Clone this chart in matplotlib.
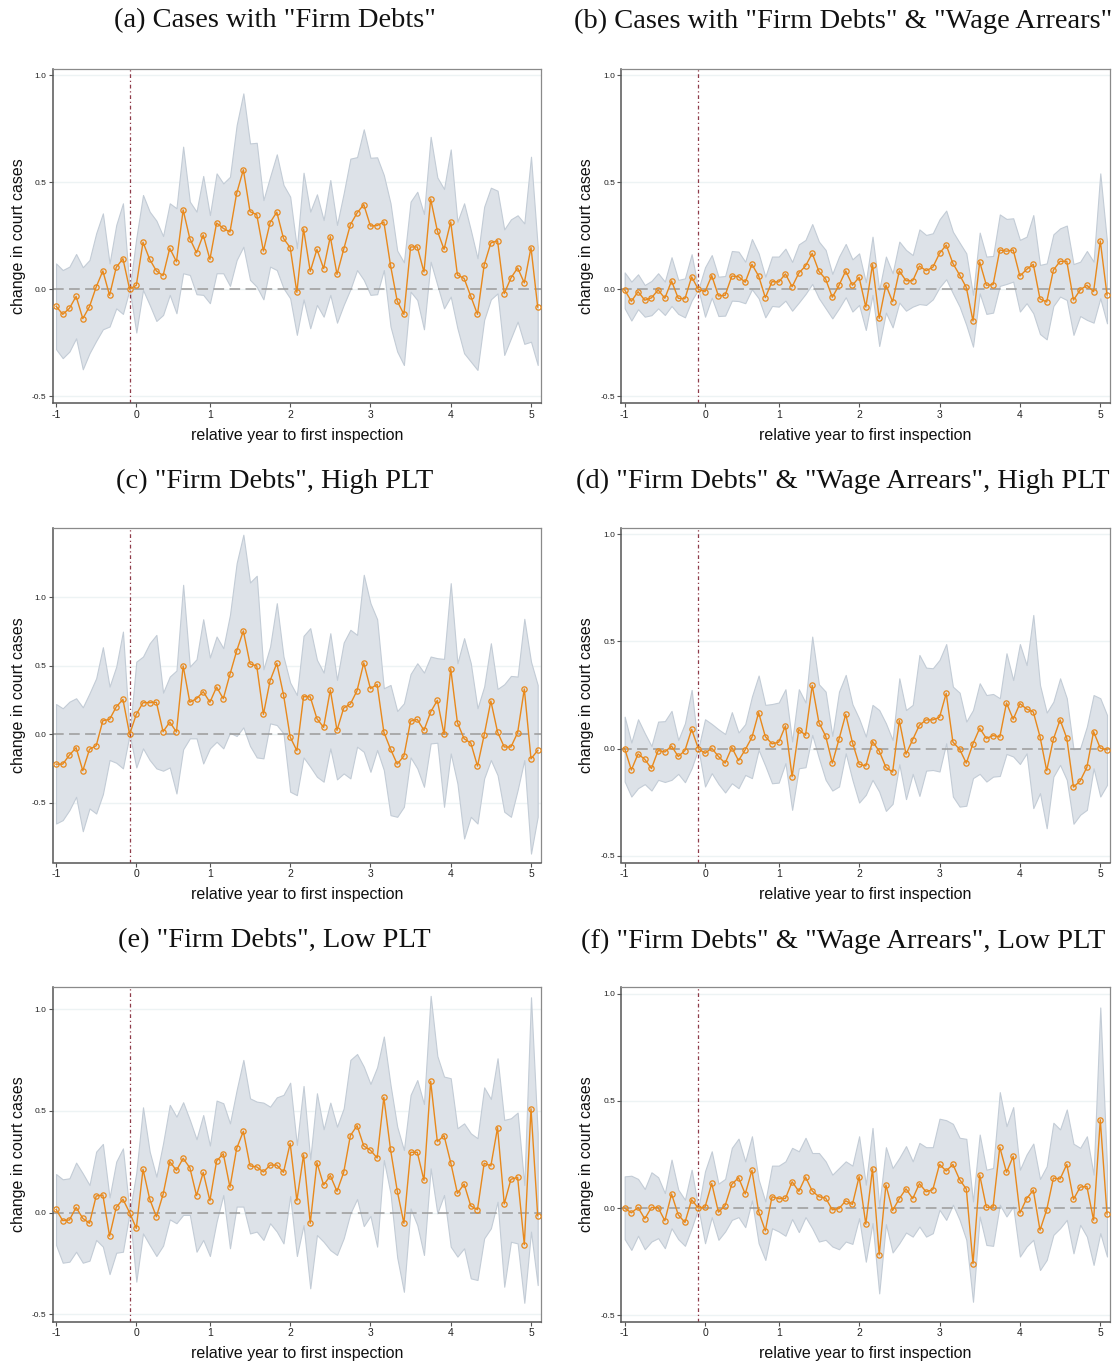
import numpy as np
import matplotlib
matplotlib.use("Agg")
import matplotlib.pyplot as plt

# ---------------- data ----------------
months = np.arange(73)                     # monthly event-time index
tick_pos = [0, 12, 23, 35, 47, 59, 71]
tick_labels = ["-1", "0", "1", "2", "3", "4", "5"]
ref_month = 11
ytick_vals = [-0.5, 0.0, 0.5, 1.0]
ytick_labels = ["-0.5", "0.0", "0.5", "1.0"]

titles = ['(a) Cases with "Firm Debts"',
          '(b) Cases with "Firm Debts" & "Wage Arrears"',
          '(c) "Firm Debts", High PLT',
          '(d) "Firm Debts" & "Wage Arrears", High PLT',
          '(e) "Firm Debts", Low PLT',
          '(f) "Firm Debts" & "Wage Arrears", Low PLT']

a_coef = [-0.079, -0.117, -0.089, -0.033, -0.137, -0.081, 0.011, 0.086, -0.028, 0.103,
          0.143, 0.0, 0.019, 0.220, 0.140, 0.086, 0.064, 0.192, 0.129, 0.371,
          0.237, 0.171, 0.254, 0.140, 0.310, 0.285, 0.268, 0.449, 0.559, 0.363,
          0.349, 0.179, 0.312, 0.361, 0.238, 0.195, -0.014, 0.282, 0.084, 0.187,
          0.097, 0.246, 0.070, 0.187, 0.302, 0.357, 0.396, 0.296, 0.298, 0.315,
          0.112, -0.055, -0.117, 0.198, 0.198, 0.081, 0.422, 0.273, 0.187, 0.315,
          0.067, 0.051, -0.033, -0.117, 0.114, 0.217, 0.227, -0.020, 0.053, 0.100,
          0.030, 0.195, -0.083]
a_hi = [0.121, 0.090, 0.106, 0.165, 0.103, 0.137, 0.262, 0.355, 0.121, 0.301,
        0.402, 0.0, 0.240, 0.441, 0.363, 0.321, 0.249, 0.402, 0.379, 0.667,
        0.410, 0.363, 0.530, 0.347, 0.542, 0.495, 0.526, 0.768, 0.916, 0.682,
        0.685, 0.417, 0.526, 0.631, 0.488, 0.433, 0.192, 0.545, 0.363, 0.444,
        0.324, 0.511, 0.301, 0.449, 0.611, 0.618, 0.748, 0.615, 0.617, 0.534,
        0.402, 0.181, 0.126, 0.410, 0.456, 0.352, 0.713, 0.523, 0.469, 0.654,
        0.316, 0.402, 0.277, 0.145, 0.386, 0.475, 0.461, 0.280, 0.327, 0.346,
        0.308, 0.620, 0.199]
a_lo = [-0.280, -0.322, -0.291, -0.229, -0.374, -0.299, -0.241, -0.187, -0.174, -0.089,
        -0.115, 0.0, -0.202, -0.003, -0.073, -0.148, -0.120, -0.026, -0.112, 0.075,
        0.067, -0.023, -0.026, -0.065, 0.075, 0.075, 0.016, 0.137, 0.199, 0.044,
        0.012, -0.047, 0.106, 0.090, 0.005, -0.042, -0.213, -0.047, -0.182, -0.073,
        -0.128, -0.026, -0.156, -0.073, 0.0, 0.090, 0.044, -0.026, -0.023, 0.090,
        -0.174, -0.291, -0.354, -0.011, -0.050, -0.187, 0.129, 0.020, -0.089, -0.034,
        -0.182, -0.299, -0.338, -0.377, -0.143, -0.047, -0.019, -0.307, -0.229, -0.151,
        -0.255, -0.245, -0.354]

b_coef = [-0.003, -0.056, -0.011, -0.051, -0.040, -0.003, -0.042, 0.039, -0.042, -0.044,
          0.058, 0.0, -0.011, 0.064, -0.031, -0.028, 0.062, 0.059, 0.033, 0.117,
          0.062, -0.039, 0.036, 0.034, 0.072, 0.012, 0.076, 0.109, 0.168, 0.084,
          0.048, -0.037, 0.019, 0.086, 0.019, 0.056, -0.083, 0.115, -0.136, 0.020,
          -0.058, 0.086, 0.040, 0.040, 0.109, 0.087, 0.103, 0.168, 0.207, 0.121,
          0.067, 0.009, -0.148, 0.128, 0.019, 0.022, 0.184, 0.178, 0.184, 0.062,
          0.093, 0.117, -0.045, -0.059, 0.090, 0.131, 0.131, -0.050, -0.003, 0.019,
          -0.011, 0.226, -0.026]
b_hi = [0.079, 0.036, 0.070, 0.020, 0.039, 0.075, 0.036, 0.150, 0.044, 0.051,
        0.164, 0.0, 0.103, 0.160, 0.059, 0.062, 0.179, 0.176, 0.129, 0.235,
        0.168, 0.059, 0.153, 0.153, 0.190, 0.128, 0.210, 0.231, 0.305, 0.223,
        0.184, 0.072, 0.153, 0.212, 0.140, 0.168, 0.033, 0.246, -0.003, 0.153,
        0.075, 0.223, 0.184, 0.160, 0.280, 0.254, 0.262, 0.327, 0.368, 0.269,
        0.218, 0.168, -0.026, 0.265, 0.153, 0.156, 0.350, 0.329, 0.332, 0.231,
        0.246, 0.347, 0.114, 0.121, 0.257, 0.285, 0.298, 0.118, 0.129, 0.179,
        0.129, 0.542, 0.223]
b_lo = [-0.089, -0.146, -0.093, -0.128, -0.121, -0.089, -0.120, -0.078, -0.115, -0.131,
        -0.053, 0.0, -0.128, -0.039, -0.125, -0.123, -0.053, -0.055, -0.065, 0.0,
        -0.042, -0.131, -0.078, -0.081, -0.053, -0.100, -0.062, -0.022, 0.025, -0.042,
        -0.089, -0.136, -0.089, -0.037, -0.104, -0.073, -0.190, -0.026, -0.265, -0.109,
        -0.178, -0.062, -0.100, -0.081, -0.069, -0.073, -0.047, 0.009, 0.047, -0.019,
        -0.081, -0.167, -0.268, -0.019, -0.115, -0.109, 0.016, 0.025, 0.036, -0.104,
        -0.065, -0.112, -0.209, -0.234, -0.078, -0.034, -0.050, -0.213, -0.125, -0.143,
        -0.156, -0.042, -0.159]

c_coef = [-0.217, -0.217, -0.151, -0.097, -0.265, -0.109, -0.083, 0.100, 0.109, 0.200,
          0.255, 0.0, 0.146, 0.231, 0.231, 0.234, 0.019, 0.090, 0.017, 0.499,
          0.234, 0.260, 0.311, 0.234, 0.345, 0.260, 0.438, 0.608, 0.754, 0.513,
          0.499, 0.146, 0.392, 0.518, 0.290, -0.019, -0.119, 0.275, 0.273, 0.114,
          0.051, 0.324, 0.029, 0.192, 0.221, 0.319, 0.521, 0.333, 0.365, 0.017,
          -0.107, -0.217, -0.158, 0.097, 0.109, 0.029, 0.163, 0.248, 0.0, 0.479,
          0.085, -0.032, -0.063, -0.231, -0.005, 0.243, 0.017, -0.092, -0.092, 0.012,
          0.331, -0.178, -0.117]
c_hi = [0.221, 0.190, 0.238, 0.263, 0.197, 0.299, 0.409, 0.635, 0.348, 0.494,
        0.749, 0.0, 0.530, 0.567, 0.664, 0.725, 0.304, 0.421, 0.465, 1.090,
        0.494, 0.547, 0.839, 0.560, 0.713, 0.628, 0.871, 1.248, 1.455, 1.107,
        1.156, 0.474, 0.640, 0.956, 0.567, 0.377, 0.287, 0.718, 0.774, 0.543,
        0.450, 0.737, 0.397, 0.669, 0.762, 0.725, 1.163, 0.956, 0.839, 0.336,
        0.360, 0.170, 0.226, 0.440, 0.518, 0.450, 0.567, 0.555, 0.550, 1.102,
        0.518, 0.701, 0.518, 0.190, 0.348, 0.664, 0.331, 0.365, 0.426, 0.421,
        0.842, 0.530, 0.360]
c_lo = [-0.650, -0.625, -0.552, -0.455, -0.706, -0.540, -0.577, -0.436, -0.187, -0.207,
        -0.248, 0.0, -0.241, -0.102, -0.187, -0.248, -0.265, -0.241, -0.431, -0.109,
        -0.029, -0.029, -0.212, -0.102, -0.054, -0.102, 0.012, -0.012, 0.051, -0.085,
        -0.168, -0.175, 0.080, 0.068, 0.007, -0.418, -0.443, -0.168, -0.236, -0.309,
        -0.345, -0.102, -0.328, -0.285, -0.321, -0.090, -0.127, -0.273, -0.114, -0.260,
        -0.589, -0.601, -0.528, -0.168, -0.248, -0.382, -0.066, -0.061, -0.528, -0.139,
        -0.358, -0.759, -0.601, -0.650, -0.321, -0.187, -0.297, -0.564, -0.601, -0.406,
        -0.187, -0.869, -0.601]

d_coef = [0.0, -0.100, -0.025, -0.050, -0.093, -0.009, -0.016, 0.012, -0.037, -0.009,
          0.090, 0.0, -0.022, 0.002, -0.037, -0.068, 0.005, -0.056, -0.005, 0.053,
          0.168, 0.056, 0.022, 0.030, 0.106, -0.131, 0.089, 0.062, 0.295, 0.121,
          0.059, -0.068, 0.044, 0.160, 0.028, -0.073, -0.081, 0.033, -0.012, -0.087,
          -0.110, 0.131, -0.026, 0.042, 0.109, 0.134, 0.134, 0.146, 0.258, 0.030,
          -0.003, -0.068, 0.023, 0.095, 0.047, 0.061, 0.054, 0.213, 0.137, 0.210,
          0.185, 0.171, 0.056, -0.103, 0.044, 0.134, 0.048, -0.180, -0.151, -0.087,
          0.079, 0.002, -0.006]
d_hi = [0.149, 0.028, 0.137, 0.072, 0.012, 0.126, 0.128, 0.176, 0.040, 0.118,
        0.274, 0.0, 0.137, 0.115, 0.090, 0.068, 0.170, 0.075, 0.114, 0.243,
        0.341, 0.204, 0.208, 0.215, 0.277, 0.033, 0.277, 0.215, 0.523, 0.300,
        0.266, 0.059, 0.266, 0.344, 0.207, 0.140, 0.056, 0.204, 0.180, 0.118,
        0.040, 0.328, 0.180, 0.204, 0.437, 0.378, 0.375, 0.414, 0.488, 0.289,
        0.261, 0.126, 0.180, 0.305, 0.250, 0.255, 0.235, 0.445, 0.320, 0.488,
        0.390, 0.624, 0.297, 0.168, 0.219, 0.328, 0.235, -0.003, 0.002, 0.103,
        0.250, 0.235, 0.157]
d_lo = [-0.154, -0.224, -0.185, -0.166, -0.196, -0.146, -0.156, -0.146, -0.118, -0.157,
        -0.092, 0.0, -0.177, -0.115, -0.165, -0.205, -0.162, -0.185, -0.123, -0.138,
        -0.006, -0.081, -0.162, -0.159, -0.068, -0.286, -0.092, -0.087, 0.064, -0.045,
        -0.146, -0.196, -0.177, -0.022, -0.146, -0.252, -0.216, -0.146, -0.201, -0.291,
        -0.258, -0.073, -0.236, -0.118, -0.221, -0.103, -0.100, -0.107, 0.025, -0.224,
        -0.271, -0.267, -0.138, -0.118, -0.154, -0.131, -0.128, -0.025, -0.037, -0.072,
        -0.022, -0.278, -0.208, -0.372, -0.131, -0.076, -0.146, -0.351, -0.309, -0.286,
        -0.092, -0.224, -0.170]

e_coef = [0.016, -0.039, -0.036, 0.026, -0.028, -0.052, 0.082, 0.087, -0.115, 0.026,
          0.066, 0.0, -0.077, 0.213, 0.067, -0.020, 0.090, 0.251, 0.208, 0.267,
          0.221, 0.084, 0.198, 0.059, 0.254, 0.290, 0.125, 0.316, 0.400, 0.230,
          0.225, 0.200, 0.234, 0.234, 0.198, 0.341, 0.059, 0.284, -0.052, 0.246,
          0.136, 0.182, 0.105, 0.198, 0.379, 0.428, 0.328, 0.307, 0.269, 0.567,
          0.311, 0.108, -0.052, 0.297, 0.297, 0.159, 0.646, 0.349, 0.379, 0.246,
          0.095, 0.141, 0.033, 0.015, 0.243, 0.230, 0.418, 0.043, 0.164, 0.174,
          -0.157, 0.511, -0.015]
e_hi = [0.190, 0.164, 0.169, 0.246, 0.193, 0.136, 0.300, 0.338, 0.075, 0.251,
        0.316, 0.0, 0.197, 0.518, 0.300, 0.177, 0.341, 0.530, 0.472, 0.543,
        0.456, 0.361, 0.480, 0.330, 0.551, 0.538, 0.439, 0.603, 0.751, 0.562,
        0.546, 0.541, 0.521, 0.567, 0.579, 0.639, 0.333, 0.623, 0.262, 0.587,
        0.410, 0.541, 0.423, 0.513, 0.751, 0.780, 0.718, 0.633, 0.715, 0.866,
        0.628, 0.423, 0.308, 0.579, 0.652, 0.534, 1.066, 0.770, 0.669, 0.661,
        0.415, 0.439, 0.390, 0.366, 0.616, 0.559, 0.759, 0.456, 0.464, 0.492,
        0.136, 1.059, 0.390]
e_lo = [-0.159, -0.246, -0.241, -0.192, -0.246, -0.236, -0.134, -0.167, -0.302, -0.197,
        -0.192, 0.0, -0.339, -0.102, -0.159, -0.213, -0.162, -0.033, -0.052, -0.011,
        -0.011, -0.192, -0.134, -0.213, -0.044, 0.087, -0.175, 0.030, 0.030, -0.102,
        -0.093, -0.134, -0.052, -0.093, -0.151, 0.082, -0.213, -0.061, -0.372, -0.110,
        -0.143, -0.184, -0.208, -0.126, -0.003, 0.067, -0.066, -0.016, -0.167, 0.259,
        0.095, -0.220, -0.389, 0.021, -0.061, -0.208, 0.218, -0.003, 0.087, -0.167,
        -0.216, -0.175, -0.323, -0.331, -0.126, -0.077, 0.054, -0.364, -0.143, -0.151,
        -0.443, -0.093, -0.356]

f_coef = [0.0, -0.022, 0.003, -0.050, 0.003, 0.002, -0.059, 0.066, -0.031, -0.067,
          0.039, 0.0, 0.005, 0.115, -0.019, 0.012, 0.111, 0.142, 0.066, 0.176,
          -0.016, -0.106, 0.053, 0.044, 0.045, 0.123, 0.078, 0.145, 0.080, 0.053,
          0.047, -0.008, -0.002, 0.034, 0.017, 0.147, -0.075, 0.183, -0.218, 0.108,
          -0.011, 0.044, 0.090, 0.044, 0.114, 0.076, 0.086, 0.204, 0.173, 0.204,
          0.133, 0.089, -0.259, 0.154, 0.003, 0.005, 0.284, 0.167, 0.242, -0.023,
          0.044, 0.084, -0.103, -0.008, 0.140, 0.136, 0.204, 0.041, 0.098, 0.101,
          -0.056, 0.412, -0.027]
f_hi = [0.148, 0.151, 0.136, 0.089, 0.167, 0.144, 0.070, 0.226, 0.086, 0.039,
        0.179, 0.0, 0.172, 0.265, 0.114, 0.136, 0.281, 0.324, 0.218, 0.335,
        0.133, 0.031, 0.198, 0.198, 0.218, 0.281, 0.265, 0.328, 0.257, 0.257,
        0.218, 0.156, 0.187, 0.218, 0.198, 0.335, 0.109, 0.374, 0.008, 0.284,
        0.187, 0.234, 0.289, 0.218, 0.304, 0.284, 0.284, 0.417, 0.410, 0.393,
        0.328, 0.323, 0.031, 0.343, 0.179, 0.187, 0.541, 0.382, 0.471, 0.179,
        0.250, 0.301, 0.136, 0.195, 0.398, 0.367, 0.460, 0.300, 0.281, 0.335,
        0.156, 0.936, 0.195]
f_lo = [-0.145, -0.195, -0.129, -0.192, -0.156, -0.140, -0.187, -0.094, -0.145, -0.176,
        -0.094, 0.0, -0.164, -0.042, -0.148, -0.109, -0.055, -0.042, -0.089, 0.036,
        -0.164, -0.242, -0.094, -0.109, -0.129, -0.051, -0.112, -0.042, -0.094, -0.156,
        -0.148, -0.179, -0.192, -0.156, -0.167, -0.047, -0.250, -0.070, -0.398, -0.075,
        -0.207, -0.164, -0.114, -0.133, -0.086, -0.133, -0.117, -0.008, -0.055, 0.016,
        -0.055, -0.148, -0.437, -0.039, -0.172, -0.176, 0.016, -0.039, 0.008, -0.226,
        -0.179, -0.148, -0.289, -0.242, -0.125, -0.094, -0.055, -0.211, -0.078, -0.133,
        -0.265, -0.117, -0.226]

# ---------------- layout ----------------
W, H = 1120, 1365
fig = plt.figure(figsize=(W / 100, H / 100), dpi=100)
fig.patch.set_facecolor("white")

SANS = ["Liberation Sans", "DejaVu Sans"]
SERIF = ["Liberation Serif", "DejaVu Serif"]

col_x = [(52.7, 540.7), (621.3, 1110.0)]
row_y = [(69.0, 403.3), (528.0, 862.5), (987.3, 1321.7)]
ylims = [(-0.533, 1.03), (-0.533, 1.03),
         (-0.934, 1.504), (-0.532, 1.03),
         (-0.536, 1.108), (-0.53, 1.03)]
title_x = [274.5, 843.0]
title_y = [21, 481, 941]

series = [(a_coef, a_lo, a_hi), (b_coef, b_lo, b_hi),
          (c_coef, c_lo, c_hi), (d_coef, d_lo, d_hi),
          (e_coef, e_lo, e_hi), (f_coef, f_lo, f_hi)]

ORANGE = "#e8891c"
BAND = "#dde2e8"
BAND_EDGE = "#c3ccd6"

for k in range(6):
    r, c = divmod(k, 2)
    x0, x1 = col_x[c]
    y0, y1 = row_y[r]
    ax = fig.add_axes([x0 / W, 1 - y1 / H, (x1 - x0) / W, (y1 - y0) / H])
    coef, lo, hi = (np.asarray(v) for v in series[k])

    ax.set_xlim(-0.5, 72.45)
    ax.set_ylim(*ylims[k])

    for yv in ytick_vals:
        ax.axhline(yv, color="#edf3f4", lw=1.0, zorder=0)

    ax.fill_between(months, lo, hi, facecolor=BAND, edgecolor=BAND_EDGE,
                    lw=0.8, zorder=1)
    ax.axhline(0, color="#9b9b9b", lw=1.1, dashes=(7, 3.5), zorder=2)
    ax.axvline(ref_month, color="#8e3a48", lw=0.9,
               linestyle=(0, (3, 2.2, 1, 2.2)), zorder=2)
    ax.plot(months, coef, color=ORANGE, lw=1.0, marker="o", markersize=3.8,
            markerfacecolor="none", markeredgecolor=ORANGE,
            markeredgewidth=0.9, zorder=3)

    ax.set_xticks(tick_pos)
    ax.set_xticklabels(tick_labels, fontsize=7.5, family=SANS)
    ax.set_yticks(ytick_vals)
    ax.set_yticklabels(ytick_labels, fontsize=6, family=SANS)
    ax.tick_params(axis="both", direction="out", length=3, width=0.8,
                   color="#555555", pad=1.5, labelcolor="#222222")

    for side in ["top", "right"]:
        ax.spines[side].set_color("#8a8a8a")
        ax.spines[side].set_linewidth(0.9)
    for side in ["left", "bottom"]:
        ax.spines[side].set_color("#555555")
        ax.spines[side].set_linewidth(1.1)

    ax.set_ylabel("change in court cases", fontsize=11.5, family=SANS, color="#111111")
    ax.yaxis.set_label_coords(-0.071, 0.5)
    ax.yaxis.label.set_va("center")
    ax.set_xlabel("relative year to first inspection", fontsize=11.5, family=SANS,
                  color="#111111")
    ax.xaxis.set_label_coords(0.5, -0.095)
    ax.xaxis.label.set_va("center")

    fig.text(title_x[c] / W, 1 - title_y[r] / H, titles[k], ha="center",
             va="center", fontsize=20.5, family=SERIF, color="#111111")

fig.savefig("out.png", dpi=100, facecolor="white")
